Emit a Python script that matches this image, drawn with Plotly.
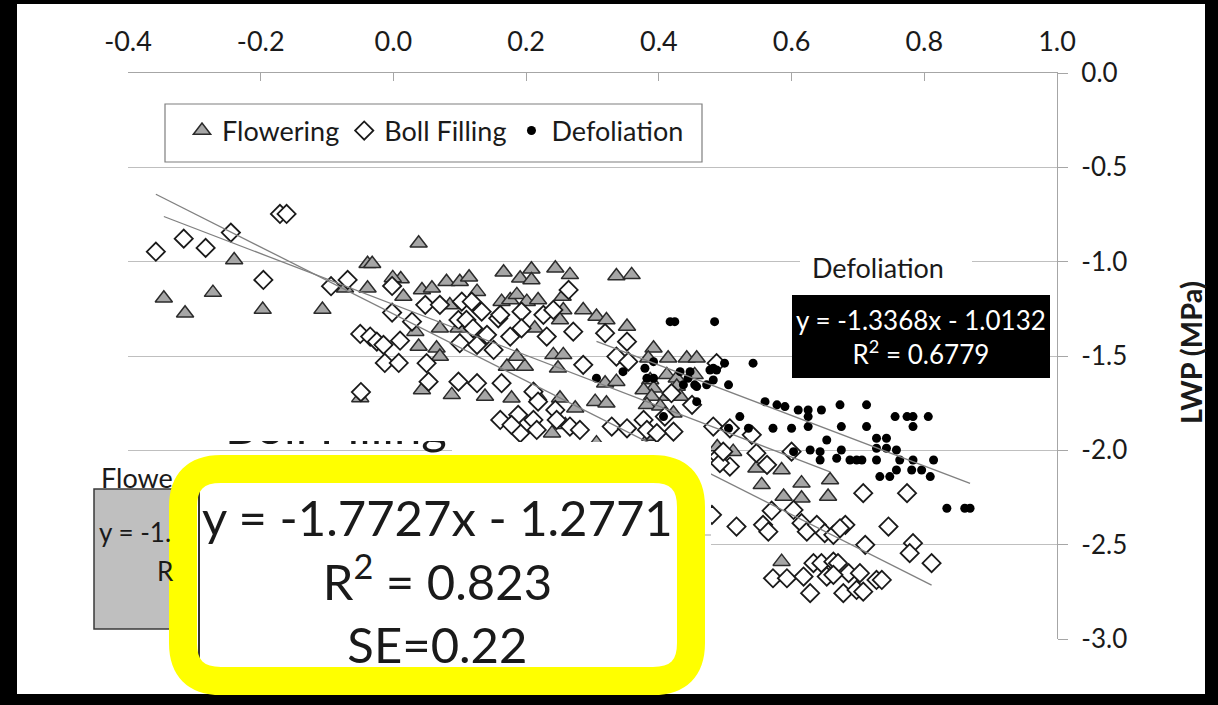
import plotly.graph_objects as go

# ---------------- data ----------------
X_TICKS = [-0.4, -0.2, 0.0, 0.2, 0.4, 0.6, 0.8, 1.0]
X_TICK_LABELS = ["-0.4", "-0.2", "0.0", "0.2", "0.4", "0.6", "0.8", "1.0"]
Y_TICKS = [0.0, -0.5, -1.0, -1.5, -2.0, -2.5, -3.0]
Y_TICK_LABELS = ["0.0", "-0.5", "-1.0", "-1.5", "-2.0", "-2.5", "-3.0"]
SERIES_NAMES = ["Flowering", "Boll Filling", "Defoliation"]

FLOWERING_X = [-0.346, -0.314, -0.272, -0.240, -0.197, -0.107, -0.073, -0.039, -0.032, -0.039,
               0.011, 0.015, -0.050, 0.038, -0.001, 0.043, 0.058, 0.080, 0.100, 0.114,
               0.126, 0.166, 0.191, 0.208, 0.208, 0.244, 0.266, 0.336, 0.163, 0.176,
               0.186, 0.201, 0.218, 0.255, 0.256, 0.286, 0.306, 0.321, 0.070, 0.098,
               0.213, 0.038, 0.065, 0.070, 0.033, 0.171, 0.198, 0.186, 0.241, 0.256,
               0.248, 0.319, 0.336, 0.043, 0.088, 0.138, 0.178, 0.251, 0.274, 0.304,
               0.321, 0.239, 0.359, 0.352, 0.251, 0.392, 0.414, 0.442, 0.457, 0.387,
               0.392, 0.412, 0.427, 0.454, 0.218, 0.377, 0.389, 0.382, 0.427, 0.412,
               0.432, 0.259, 0.306, 0.547, 0.615, 0.658, 0.655, 0.588, 0.488, 0.512,
               0.555, 0.585, 0.615, 0.585, 0.384, 0.402, 0.422, 0.387, 0.085]
FLOWERING_Y = [-1.194, -1.273, -1.164, -0.991, -1.254, -1.254, -1.141, -1.011, -1.011, -1.141,
               -1.092, -1.185, -1.722, -0.902, -1.086, -1.150, -1.141, -1.106, -1.106, -1.083,
               -1.159, -1.056, -1.088, -1.040, -1.097, -1.035, -1.070, -1.076, -1.212, -1.203,
               -1.176, -1.212, -1.203, -1.185, -1.256, -1.256, -1.291, -1.309, -1.353, -1.353,
               -1.353, -1.450, -1.459, -1.503, -1.371, -1.556, -1.556, -1.503, -1.494, -1.494,
               -1.565, -1.644, -1.636, -1.680, -1.706, -1.715, -1.724, -1.724, -1.777, -1.742,
               -1.750, -1.909, -1.070, -1.344, -1.309, -1.459, -1.512, -1.512, -1.512, -1.627,
               -1.671, -1.600, -1.618, -1.600, -1.715, -1.680, -1.715, -1.759, -1.662, -1.715,
               -1.715, -1.865, -1.962, -2.095, -2.174, -2.157, -2.245, -2.245, -1.982, -2.007,
               -2.183, -2.104, -2.254, -2.590, -1.512, -1.767, -1.803, -1.927, -1.230]

BOLL_X = [-0.358, -0.316, -0.283, -0.245, -0.171, -0.161, -0.196, -0.094, -0.069, -0.050,
          -0.035, -0.025, -0.015, 0.010, -0.013, 0.008, -0.002, -0.002, -0.049, 0.048,
          0.070, 0.028, 0.103, 0.118, 0.133, 0.098, 0.110, 0.120, 0.158, 0.193,
          0.226, 0.241, 0.264, 0.193, 0.176, 0.231, 0.271, 0.319, 0.050, 0.100,
          0.126, 0.151, 0.053, 0.098, 0.126, 0.163, 0.211, 0.286, 0.161, 0.188,
          0.211, 0.244, 0.246, 0.266, 0.281, 0.191, 0.216, 0.329, 0.161, 0.141,
          0.352, 0.336, 0.354, 0.218, 0.178, 0.352, 0.377, 0.382, 0.409, 0.422,
          0.450, 0.482, 0.507, 0.490, 0.507, 0.540, 0.563, 0.600, 0.708, 0.774,
          0.570, 0.603, 0.746, 0.711, 0.783, 0.778, 0.811, 0.547, 0.492, 0.517,
          0.557, 0.565, 0.615, 0.623, 0.638, 0.650, 0.663, 0.681, 0.673, 0.480,
          0.572, 0.593, 0.618, 0.633, 0.645, 0.663, 0.670, 0.686, 0.703, 0.628,
          0.678, 0.698, 0.708, 0.728, 0.736, 0.653, 0.663, 0.487, 0.419, 0.397,
          0.497]
BOLL_Y = [-0.947, -0.878, -0.927, -0.846, -0.747, -0.747, -1.097, -1.130, -1.097, -1.383,
          -1.397, -1.424, -1.441, -1.419, -1.537, -1.537, -1.129, -1.270, -1.691, -1.229,
          -1.229, -1.318, -1.212, -1.212, -1.265, -1.309, -1.309, -1.353, -1.300, -1.265,
          -1.282, -1.256, -1.150, -1.353, -1.397, -1.397, -1.371, -1.379, -1.538, -1.432,
          -1.441, -1.468, -1.636, -1.636, -1.644, -1.644, -1.689, -1.547, -1.839, -1.812,
          -1.839, -1.786, -1.839, -1.874, -1.892, -1.909, -1.892, -1.874, -1.282, -1.388,
          -1.424, -1.503, -1.530, -1.742, -1.865, -1.883, -1.839, -1.892, -1.821, -1.901,
          -1.759, -1.874, -1.883, -2.033, -2.086, -1.918, -2.077, -2.007, -2.227, -2.227,
          -2.320, -2.316, -2.404, -2.501, -2.492, -2.545, -2.598, -2.015, -2.068, -2.404,
          -2.395, -2.431, -2.386, -2.431, -2.395, -2.439, -2.448, -2.395, -2.413, -2.342,
          -2.678, -2.678, -2.669, -2.598, -2.598, -2.590, -2.598, -2.651, -2.651, -2.757,
          -2.757, -2.740, -2.749, -2.687, -2.687, -2.669, -2.660, -1.538, -1.697, -1.909,
          -2.007]

DEFOL_X = [0.417, 0.424, 0.484, 0.499, 0.542, 0.482, 0.306, 0.346, 0.379, 0.392,
           0.382, 0.392, 0.432, 0.444, 0.447, 0.457, 0.472, 0.482, 0.487, 0.477,
           0.505, 0.437, 0.454, 0.457, 0.407, 0.560, 0.578, 0.590, 0.610, 0.625,
           0.625, 0.645, 0.673, 0.713, 0.522, 0.572, 0.600, 0.625, 0.675, 0.713,
           0.756, 0.774, 0.783, 0.806, 0.783, 0.505, 0.535, 0.653, 0.728, 0.743,
           0.728, 0.743, 0.758, 0.603, 0.628, 0.643, 0.643, 0.668, 0.688, 0.698,
           0.706, 0.728, 0.763, 0.783, 0.814, 0.675, 0.758, 0.781, 0.796, 0.733,
           0.748, 0.809, 0.834, 0.861, 0.869]
DEFOL_Y = [-1.318, -1.318, -1.318, -1.538, -1.538, -1.565, -1.618, -1.583, -1.565, -1.530,
           -1.618, -1.618, -1.583, -1.618, -1.583, -1.662, -1.653, -1.627, -1.574, -1.574,
           -1.653, -1.653, -1.653, -1.742, -1.821, -1.742, -1.759, -1.768, -1.786, -1.786,
           -1.821, -1.786, -1.759, -1.759, -1.821, -1.883, -1.883, -1.874, -1.874, -1.874,
           -1.821, -1.821, -1.821, -1.821, -1.874, -1.883, -1.883, -1.945, -1.936, -1.936,
           -1.989, -1.989, -1.998, -2.007, -1.998, -2.007, -2.051, -2.042, -2.051, -2.051,
           -2.051, -2.051, -2.051, -2.051, -2.051, -1.998, -2.104, -2.104, -2.104, -2.139,
           -2.139, -2.139, -2.307, -2.307, -2.307]

# linear fits (slope, intercept); Flowering
FLOWERING_FIT = (-1.348, -1.227)
BOLL_FIT = (-1.7727, -1.2771)
DEFOL_FIT = (-1.3368, -1.0132)

BOLL_LABEL = "y = -1.7727x - 1.2771<br>R<sup>2</sup> = 0.823<br>SE=0.22"
DEFOL_LABEL = "y = -1.3368x - 1.0132<br>R<sup>2</sup> = 0.6779"
FLOWER_LABEL_PARTS = ["Flowe", "y = -1.", "R"]   # visible parts of the covered label
Y_TITLE = "LWP (MPa)"

# ---------------- geometry helpers (layout only) ----------------
W, H = 1218, 705
ML, MR, MT, MB = 128, 161, 73, 66
PW, PH = W - ML - MR, H - MT - MB
X_RANGE = [-0.4, 1.0]
Y_RANGE = [-3.0, 0.0]


def px(x):
    return (x - ML) / PW


def py(y):
    return (H - MB - y) / PH


def dx(x):
    return X_RANGE[0] + (x - ML) / PW * (X_RANGE[1] - X_RANGE[0])


def dy(y):
    return Y_RANGE[1] - (y - MT) / PH * (Y_RANGE[1] - Y_RANGE[0])


def rounded_path(x0, y0, x1, y1, r):
    pts = [
        ("M", [(x0 + r, y0)]), ("L", [(x1 - r, y0)]), ("Q", [(x1, y0), (x1, y0 + r)]),
        ("L", [(x1, y1 - r)]), ("Q", [(x1, y1), (x1 - r, y1)]),
        ("L", [(x0 + r, y1)]), ("Q", [(x0, y1), (x0, y1 - r)]),
        ("L", [(x0, y0 + r)]), ("Q", [(x0, y0), (x0 + r, y0)]),
    ]
    s = ""
    for cmd, ps in pts:
        s += cmd + " ".join(f"{px(a):.5f},{py(b):.5f}" for a, b in ps) + " "
    return s + "Z"


FONT = "Lato"
TXT = "#1a1a1a"

fig = go.Figure()

fig.add_trace(go.Scatter(
    x=FLOWERING_X, y=FLOWERING_Y, mode="markers", name=SERIES_NAMES[0],
    marker=dict(symbol="triangle-up", size=15, color="#a6a6a6",
                line=dict(color="#2b2b2b", width=1.5))))
fig.add_trace(go.Scatter(
    x=BOLL_X, y=BOLL_Y, mode="markers", name=SERIES_NAMES[1],
    marker=dict(symbol="diamond", size=14, color="white",
                line=dict(color="#1a1a1a", width=1.8))))
fig.add_trace(go.Scatter(
    x=DEFOL_X, y=DEFOL_Y, mode="markers", name=SERIES_NAMES[2],
    marker=dict(symbol="circle", size=9, color="black", line=dict(width=0))))

for xs, fit in [(FLOWERING_X, FLOWERING_FIT), (BOLL_X, BOLL_FIT), (DEFOL_X, DEFOL_FIT)]:
    lo, hi = min(xs), max(xs)
    fig.add_trace(go.Scatter(
        x=[lo, hi], y=[fit[0] * lo + fit[1], fit[0] * hi + fit[1]], mode="lines",
        line=dict(color="#808080", width=1.3), showlegend=False, hoverinfo="skip"))

# "Boll Filling" label of the enlarged inset: only its lower edge shows
fig.add_trace(go.Scatter(
    x=[dx(225)], y=[dy(432)], text=[SERIES_NAMES[1]], mode="text",
    textposition="middle right", textfont=dict(family=FONT, size=49, color=TXT),
    cliponaxis=False, showlegend=False, hoverinfo="skip"))

shapes = [
    # white page inside the black frame
    dict(type="rect", xref="paper", yref="paper", layer="below",
         x0=px(17), x1=px(1205), y0=py(694), y1=py(4),
         fillcolor="white", line=dict(width=0)),
    # legend frame
    dict(type="rect", xref="paper", yref="paper", layer="above",
         x0=px(165), x1=px(702), y0=py(162), y1=py(104),
         fillcolor="white", line=dict(color="#7f7f7f", width=1.2)),
    # gap in the gridline behind the "Defoliation" label
    dict(type="rect", xref="paper", yref="paper", layer="above",
         x0=px(800), x1=px(972), y0=py(275), y1=py(255),
         fillcolor="white", line=dict(width=0)),
    # Defoliation equation box
    dict(type="rect", xref="paper", yref="paper", layer="above",
         x0=px(792), x1=px(1050), y0=py(378), y1=py(295),
         fillcolor="black", line=dict(width=0)),
    # Flowering equation box (grey)
    dict(type="rect", xref="paper", yref="paper", layer="above",
         x0=px(94), x1=px(260), y0=py(629), y1=py(489),
         fillcolor="#bfbfbf", line=dict(color="#3a3a3a", width=1.5)),
    # mask over the top of the "Boll Filling" label
    dict(type="rect", xref="paper", yref="paper", layer="above",
         x0=px(215), x1=px(455), y0=py(441), y1=py(406),
         fillcolor="white", line=dict(width=0)),
    # pasted inset (white)
    dict(type="rect", xref="paper", yref="paper", layer="above",
         x0=px(197), x1=px(711), y0=py(694), y1=py(456),
         fillcolor="white", line=dict(width=0)),
    dict(type="rect", xref="paper", yref="paper", layer="above",
         x0=px(452), x1=px(711), y0=py(456), y1=py(442),
         fillcolor="white", line=dict(width=0)),
    dict(type="line", xref="paper", yref="paper", layer="above",
         x0=px(680), x1=px(711), y0=py(535), y1=py(535),
         line=dict(color="#bfbfbf", width=1.5)),
    dict(type="line", xref="paper", yref="paper", layer="above",
         x0=px(199), x1=px(199), y0=py(660), y1=py(487),
         line=dict(color="#333333", width=2)),
    # yellow rounded frame
    dict(type="path", xref="paper", yref="paper", layer="above",
         path=rounded_path(183, 469, 691, 681, 38),
         line=dict(color="#ffff00", width=28)),
]

annotations = [
    dict(xref="paper", yref="paper", x=px(437), y=py(580), text=BOLL_LABEL,
         showarrow=False, xanchor="center", yanchor="middle", align="center",
         font=dict(family=FONT, size=49, color=TXT)),
    dict(xref="paper", yref="paper", x=px(921), y=py(337), text=DEFOL_LABEL,
         showarrow=False, xanchor="center", yanchor="middle", align="center",
         font=dict(family=FONT, size=26, color="white")),
    dict(xref="paper", yref="paper", x=px(878), y=py(267), text=SERIES_NAMES[2],
         showarrow=False, xanchor="center", yanchor="middle",
         font=dict(family=FONT, size=27, color=TXT)),
    dict(xref="paper", yref="paper", x=px(99), y=py(477), text=FLOWER_LABEL_PARTS[0],
         showarrow=False, xanchor="left", yanchor="middle",
         font=dict(family=FONT, size=27, color=TXT)),
    dict(xref="paper", yref="paper", x=px(97), y=py(532), text=FLOWER_LABEL_PARTS[1],
         showarrow=False, xanchor="left", yanchor="middle",
         font=dict(family=FONT, size=26, color=TXT)),
    dict(xref="paper", yref="paper", x=px(155), y=py(571), text=FLOWER_LABEL_PARTS[2],
         showarrow=False, xanchor="left", yanchor="middle",
         font=dict(family=FONT, size=26, color=TXT)),
    dict(xref="paper", yref="paper", x=px(1190), y=py(353), text="<b>" + Y_TITLE + "</b>",
         showarrow=False, xanchor="center", yanchor="middle", textangle=-90,
         font=dict(family=FONT, size=29, color=TXT)),
]

fig.update_layout(
    width=W, height=H, margin=dict(l=ML, r=MR, t=MT, b=MB, autoexpand=False),
    paper_bgcolor="black", plot_bgcolor="white",
    font=dict(family=FONT, color=TXT),
    showlegend=True, hovermode=False,
    legend=dict(orientation="h", x=px(182), y=py(131), xanchor="left", yanchor="middle",
                bgcolor="rgba(0,0,0,0)", borderwidth=0, itemwidth=30,
                font=dict(family=FONT, size=27, color=TXT)),
    shapes=shapes, annotations=annotations,
    xaxis=dict(side="top", range=X_RANGE, tickvals=X_TICKS, ticktext=X_TICK_LABELS,
               ticks="inside", ticklen=8, tickcolor="#a6a6a6", tickwidth=1.3,
               showline=True, linecolor="#a6a6a6", linewidth=1.3, showgrid=False,
               zeroline=False, automargin=False, ticklabelstandoff=10,
               tickfont=dict(family=FONT, size=27, color=TXT)),
    yaxis=dict(side="right", range=Y_RANGE, tickvals=Y_TICKS, ticktext=Y_TICK_LABELS,
               ticks="outside", ticklen=10, tickcolor="#a6a6a6", tickwidth=1.3,
               showline=True, linecolor="#a6a6a6", linewidth=1.3, showgrid=True,
               gridcolor="#bfbfbf", gridwidth=1.3, zeroline=False, automargin=False,
               ticklabelstandoff=8, tickfont=dict(family=FONT, size=26, color=TXT)),
)

fig.write_html("out.html")
